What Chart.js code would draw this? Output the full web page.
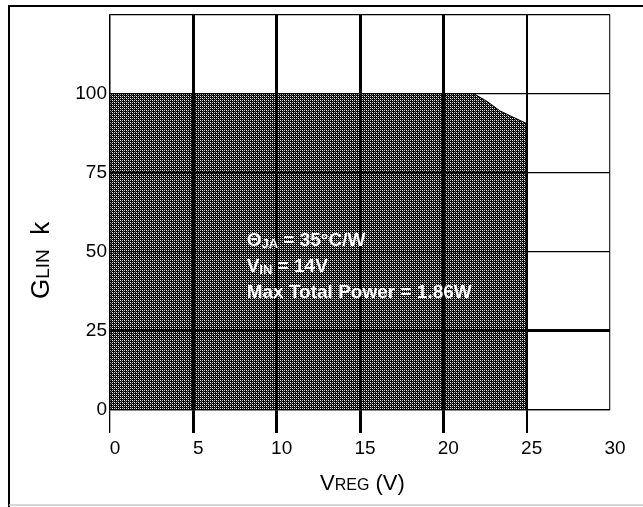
<!DOCTYPE html>
<html>
<head>
<meta charset="utf-8">
<script src="https://cdn.jsdelivr.net/npm/chart.js@4/dist/chart.umd.min.js"></script>
<style>
	html, body { margin: 0; padding: 0; background: #fff; }
	#wrap { width: 643px; height: 507px; position: relative; }
</style>
</head>
<body>
<div id="wrap"><canvas id="myChart" width="643" height="507"></canvas></div>
<script>
// safe operating area outline (V_REG in volts, G_LIN in k)
const vregPoints = [0, 21.8, 22.6, 23.4, 25, 25];
const glinPoints = [100, 100, 97.6, 94.5, 90.5, 0];

const xTicks = [0, 5, 10, 15, 20, 25, 30];
const yTicks = [0, 25, 50, 75, 100, 125];

// note lines: [main text, subscript, rest]
const noteLines = [
	['Θ', 'JA', ' = 35°C/W'],
	['V', 'IN', ' = 14V'],
	['Max Total Power = 1.86W', '', ''],
];

const FONT = '"Liberation Sans", Arial, Helvetica, sans-serif';

// dark dithered hatch like the scanned original
const makeHatch = () => {
	const pc = document.createElement('canvas');
	pc.width = 4;
	pc.height = 4;
	const g = pc.getContext('2d');
	g.fillStyle = '#000';
	g.fillRect(0, 0, 4, 4);
	g.fillStyle = '#fff';
	g.fillRect(0, 0, 1, 1);
	g.fillRect(2, 2, 1, 1);
	g.fillStyle = '#ccc';
	g.fillRect(2, 0, 1, 1);
	g.fillRect(0, 2, 1, 1);
	g.fillStyle = '#555';
	g.fillRect(1, 1, 1, 1);
	g.fillRect(3, 3, 1, 1);
	return g.createPattern(pc, 'repeat');
};

// draws text pieces with a smaller lowered middle part
const drawSub = (ctx, x, y, parts, big, small, drop) => {
	ctx.font = big;
	ctx.fillText(parts[0], x, y);
	x += ctx.measureText(parts[0]).width;
	if (parts[1]) {
		ctx.font = small;
		ctx.fillText(parts[1], x, y + drop);
		x += ctx.measureText(parts[1]).width;
	}
	if (parts[2]) {
		ctx.font = big;
		ctx.fillText(parts[2], x, y);
	}
};

const extras = {
	id: 'extras',
	afterDraw(chart) {
		const { ctx, scales } = chart;
		const x = scales.x;
		const y = scales.y;
		ctx.save();

		// outer frame
		ctx.strokeStyle = '#000';
		ctx.lineWidth = 2;
		ctx.beginPath();
		ctx.moveTo(9, 507);
		ctx.lineTo(9, 6);
		ctx.lineTo(643, 6);
		ctx.stroke();
		ctx.strokeStyle = '#c8c8c8';
		ctx.lineWidth = 1.5;
		ctx.beginPath();
		ctx.moveTo(9, 505);
		ctx.lineTo(643, 505);
		ctx.stroke();

		// notes inside the shaded area
		ctx.fillStyle = '#fff';
		ctx.textBaseline = 'middle';
		ctx.textAlign = 'left';
		const nx = x.getPixelForValue(8.2);
		const noteY = [53.5, 45.3, 37.2];
		noteLines.forEach((parts, i) => {
			drawSub(ctx, nx, y.getPixelForValue(noteY[i]), parts,
				'bold 19px ' + FONT, 'bold 13px ' + FONT, 4);
		});

		// x axis title
		ctx.fillStyle = '#000';
		ctx.textBaseline = 'alphabetic';
		drawSub(ctx, 320, 490, ['V', 'REG', ' (V)'], '22px ' + FONT, '16px ' + FONT, 0);

		// y axis title, rotated
		ctx.translate(49, 299);
		ctx.rotate(-Math.PI / 2);
		drawSub(ctx, 0, 0, ['G', 'LIN', '  k'], '26px ' + FONT, '19px ' + FONT, 0);
		ctx.restore();
	},
};

const xWidth = (v) => (v >= 5 && v <= 20 ? 3 : v === 25 ? 2 : 1.3);
const yWidth = (v) => (v === 25 ? 3 : 1.3);

const ctx = document.getElementById('myChart');
const myChart = new Chart(ctx, {
	type: 'line',
	data: {
		datasets: [
			{
				data: vregPoints.map((v, i) => ({ x: v, y: glinPoints[i] })),
				fill: 'origin',
				backgroundColor: makeHatch(),
				borderColor: '#000',
				borderWidth: 1,
				pointRadius: 0,
				tension: 0,
			},
		],
	},
	options: {
		responsive: false,
		animation: false,
		layout: { padding: { left: 0, right: 33, top: 13, bottom: 0 } },
		plugins: { legend: { display: false }, tooltip: { enabled: false } },
		scales: {
			x: {
				type: 'linear',
				min: 0,
				max: 30,
				afterBuildTicks: (s) => { s.ticks = xTicks.map((v) => ({ value: v })); },
				afterFit: (s) => { s.height = 97; },
				border: { display: true, color: '#000', width: 1.3, z: 2 },
				grid: {
					z: 1,
					color: (c) => (c.tick && c.tick.value === 30 ? '#333' : '#000'),
					lineWidth: (c) => xWidth(c.tick ? c.tick.value : 0),
					drawTicks: true,
					tickLength: 23,
					tickWidth: (c) => (c.tick && c.tick.value === 30 ? 0 : xWidth(c.tick ? c.tick.value : 0)),
					tickColor: '#000',
				},
				ticks: {
					color: '#000',
					padding: 4,
					labelOffset: 5,
					maxRotation: 0,
					font: { family: FONT, size: 19 },
				},
			},
			y: {
				type: 'linear',
				min: 0,
				max: 125,
				afterBuildTicks: (s) => { s.ticks = yTicks.map((v) => ({ value: v })); },
				afterFit: (s) => { s.width = 110; },
				border: { display: true, color: '#000', width: 1.3, z: 2 },
				grid: {
					z: 1,
					color: '#000',
					lineWidth: (c) => yWidth(c.tick ? c.tick.value : 0),
					drawTicks: false,
				},
				ticks: {
					color: '#000',
					padding: 3,
					font: { family: FONT, size: 19 },
					callback: (v) => (v === 125 ? '' : v),
				},
			},
		},
	},
	plugins: [extras],
});
</script>
</body>
</html>
